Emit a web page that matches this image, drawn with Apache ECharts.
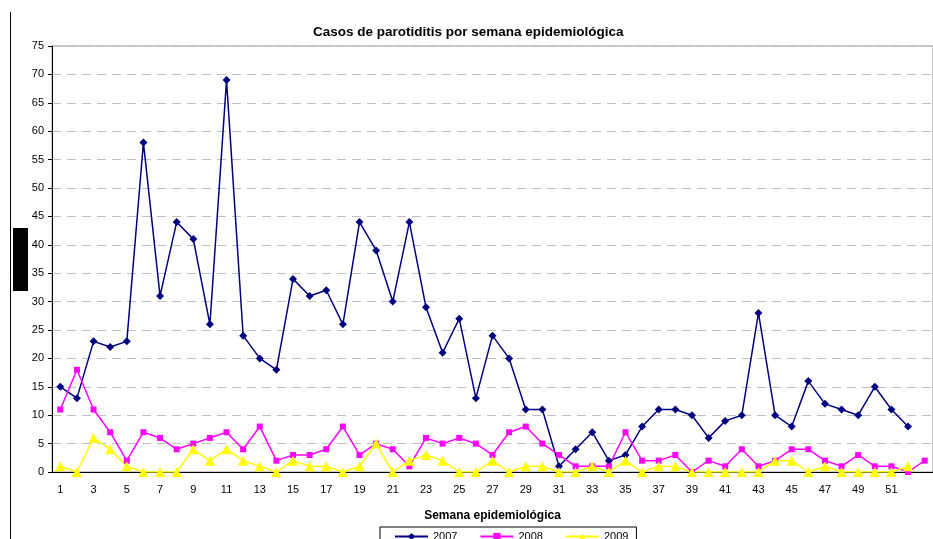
<!DOCTYPE html>
<html>
<head>
<meta charset="utf-8">
<script src="https://cdn.jsdelivr.net/npm/echarts@6/dist/echarts.min.js"></script>
<style>
  html, body { margin: 0; padding: 0; background: #fff; }
  #main { width: 933px; height: 539px; }
</style>
</head>
<body>
<div id="main"></div>
<script>
// semanas epidemiologicas 1..53
var semanas = [];
for (var i = 1; i <= 53; i++) { semanas.push(String(i)); }

var casos2007 = [15, 13, 23, 22, 23, 58, 31, 44, 41, 26, 69, 24, 20, 18, 34, 31, 32, 26, 44, 39,
                 30, 44, 29, 21, 27, 13, 24, 20, 11, 11, 1, 4, 7, 2, 3, 8, 11, 11, 10, 6,
                 9, 10, 28, 10, 8, 16, 12, 11, 10, 15, 11, 8];
var casos2008 = [11, 18, 11, 7, 2, 7, 6, 4, 5, 6, 7, 4, 8, 2, 3, 3, 4, 8, 3, 5,
                 4, 1, 6, 5, 6, 5, 3, 7, 8, 5, 3, 1, 1, 1, 7, 2, 2, 3, 0, 2,
                 1, 4, 1, 2, 4, 4, 2, 1, 3, 1, 1, 0, 2];
var casos2009 = [1, 0, 6, 4, 1, 0, 0, 0, 4, 2, 4, 2, 1, 0, 2, 1, 1, 0, 1, 5,
                 0, 2, 3, 2, 0, 0, 2, 0, 1, 1, 0, 0, 1, 0, 2, 0, 1, 1, 0, 0,
                 0, 0, 0, 2, 2, 0, 1, 0, 0, 0, 0, 1];

var myChart = echarts.init(document.getElementById('main'));
var fuente = '"Liberation Sans", Arial, sans-serif';

myChart.setOption({
  animation: false,
  textStyle: { fontFamily: fuente },
  title: {
    text: 'Casos de parotiditis por semana epidemiológica',
    left: 308,
    top: 20,
    textStyle: { fontSize: 13.5, fontWeight: 'bold', color: '#000', fontFamily: fuente }
  },
  legend: {
    left: 380,
    top: 527,
    itemWidth: 33,
    itemHeight: 9,
    itemGap: 22,
    padding: [4, 8, 4, 14],
    borderColor: '#000',
    borderWidth: 1,
    textStyle: { fontSize: 11, color: '#000', fontFamily: fuente },
    data: ['2007', '2008', '2009']
  },
  grid: {
    left: 52,
    right: -4,
    top: 46,
    bottom: 67,
    show: true,
    borderColor: '#999',
    borderWidth: 1
  },
  xAxis: {
    type: 'category',
    data: semanas,
    boundaryGap: true,
    name: 'Semana epidemiológica',
    nameLocation: 'middle',
    nameGap: 38,
    nameTextStyle: { fontSize: 12, fontWeight: 'bold', color: '#000', fontFamily: fuente },
    axisLine: { lineStyle: { color: '#000', width: 1 } },
    axisTick: { interval: 0, length: 5, lineStyle: { color: '#000' } },
    axisLabel: { interval: 1, showMaxLabel: false, fontSize: 11, color: '#000', margin: 12, fontFamily: fuente },
    splitLine: { show: false }
  },
  yAxis: {
    type: 'value',
    min: 0,
    max: 75,
    interval: 5,
    axisLine: { show: true, lineStyle: { color: '#000', width: 1 } },
    axisTick: { show: true, length: 4, lineStyle: { color: '#000' } },
    axisLabel: { fontSize: 11, color: '#000', margin: 8, fontFamily: fuente },
    splitLine: { show: true, lineStyle: { color: '#c0c0c0', type: [9, 6], width: 1 } }
  },
  series: [
    {
      name: '2007',
      type: 'line',
      data: casos2007,
      symbol: 'diamond',
      symbolSize: 8,
      color: '#000080',
      lineStyle: { width: 1.5, color: '#000080' }
    },
    {
      name: '2008',
      type: 'line',
      data: casos2008,
      symbol: 'rect',
      symbolSize: 6,
      color: '#ff00ff',
      lineStyle: { width: 1.5, color: '#ff00ff' }
    },
    {
      name: '2009',
      type: 'line',
      data: casos2009,
      symbol: 'triangle',
      symbolSize: 10,
      color: '#ffff00',
      lineStyle: { width: 1.5, color: '#ffff00' }
    }
  ],
  graphic: [
    { type: 'line', shape: { x1: 10.5, y1: 12, x2: 10.5, y2: 539 }, style: { stroke: '#000', lineWidth: 1 } },
    { type: 'rect', shape: { x: 13, y: 228, width: 15, height: 63 }, style: { fill: '#000' } }
  ]
});
</script>
</body>
</html>
